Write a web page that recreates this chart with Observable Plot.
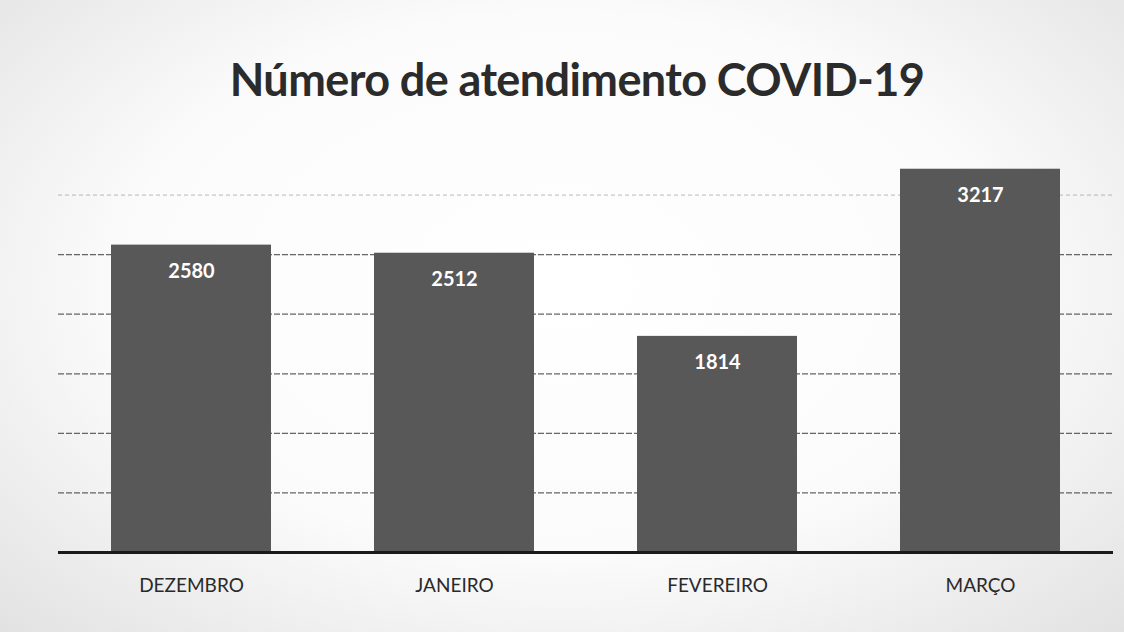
<!DOCTYPE html>
<html>
<head>
<meta charset="utf-8">
<script src="https://cdn.jsdelivr.net/npm/d3@7"></script>
<script src="https://cdn.jsdelivr.net/npm/@observablehq/plot@0.6"></script>
<style>
  html, body { margin: 0; padding: 0; }
  body {
    width: 1124px; height: 632px; overflow: hidden;
    background: radial-gradient(ellipse at 50% 45%, #ffffff 0%, #fbfbfb 55%, #e2e2e2 100%);
    font-family: Lato, "Open Sans", sans-serif;
  }
  #title {
    height: 110px; box-sizing: border-box; padding-top: 57px;
    text-align: center; font-size: 45px; font-weight: 700; color: #2b2b2b;
    line-height: 1; letter-spacing: -0.6px; padding-left: 30px;
  }
</style>
</head>
<body>
<div id="title">Número de atendimento COVID-19</div>
<div id="chart"></div>
<script>
const months = ["DEZEMBRO", "JANEIRO", "FEVEREIRO", "MARÇO"];
const values = [2580, 2512, 1814, 3217];
const gridTicks = [500, 1000, 1500, 2000, 2500];
const faintTicks = [3000];

const data = months.map((m, i) => ({month: m, value: values[i]}));

const chart = Plot.plot({
  width: 1124,
  height: 522,
  marginTop: 25,
  marginBottom: 80,
  marginLeft: 58,
  marginRight: 11,
  style: {background: "transparent", fontFamily: "Lato, 'Open Sans', sans-serif"},
  x: {domain: months, paddingInner: 0.39, paddingOuter: 0.195, label: null},
  y: {domain: [0, 3500], axis: null},
  marks: [
    Plot.ruleY(gridTicks, {stroke: "#4a4a4a", strokeWidth: 1.2, strokeDasharray: "6,2", strokeOpacity: 0.85}),
    Plot.ruleY(faintTicks, {stroke: "#777", strokeWidth: 1, strokeDasharray: "4,3", strokeOpacity: 0.5}),
    Plot.barY(data, {x: "month", y: "value", fill: "#585858"}),
    Plot.ruleY([0], {stroke: "#1a1a1a", strokeWidth: 3}),
    Plot.text(data, {x: "month", y: "value", text: d => String(d.value), dy: 26, fill: "white", fontWeight: "bold", fontSize: 20}),
    Plot.axisX({tickSize: 0, tickPadding: 26, fontSize: 19, fill: "#2a2a2a", label: null})
  ]
});
document.getElementById("chart").appendChild(chart);
</script>
</body>
</html>
